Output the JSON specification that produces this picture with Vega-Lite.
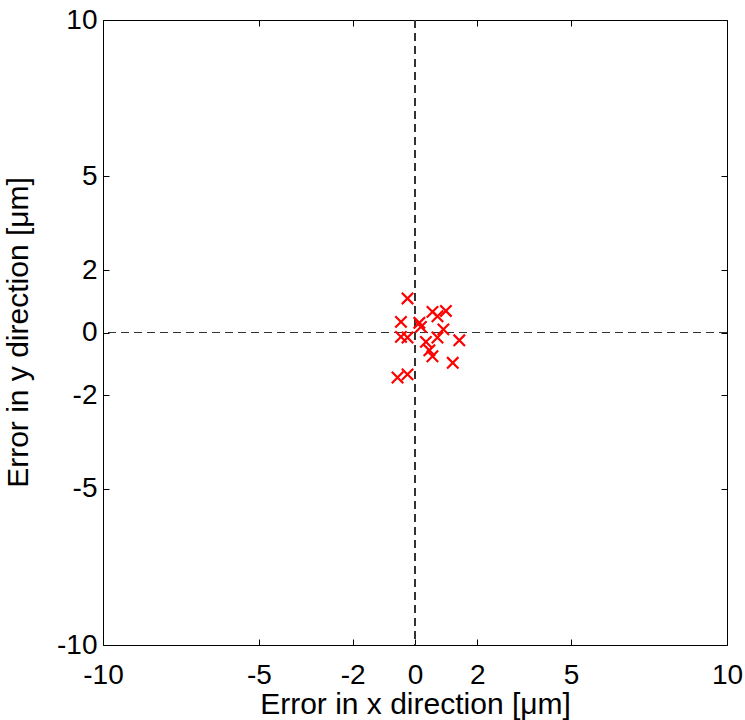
{
  "$schema": "https://vega.github.io/schema/vega-lite/v6.json",
  "autosize": "none",
  "width": 624,
  "height": 625,
  "padding": {"left": 103, "top": 20, "right": 18, "bottom": 75},
  "background": "white",
  "config": {
    "view": {"stroke": null},
    "axis": {
      "labelFont": "Liberation Sans",
      "titleFont": "Liberation Sans",
      "labelFontSize": 28,
      "titleFontSize": 30,
      "labelColor": "black",
      "titleColor": "black",
      "titleFontWeight": "normal",
      "domainColor": "black",
      "tickColor": "black",
      "domainWidth": 1,
      "tickWidth": 1,
      "grid": false,
      "labelFlush": false,
      "labelOverlap": false,
      "tickSize": -6,
      "labelExpr": "'' + datum.value"
    }
  },
  "data": {
    "values": [
      {"ex": -0.24, "ey": 1.09},
      {"ex": -0.45, "ey": 0.34},
      {"ex": 0.14, "ey": 0.31},
      {"ex": 0.19, "ey": 0.18},
      {"ex": 0.56, "ey": 0.66},
      {"ex": 0.72, "ey": 0.52},
      {"ex": 0.99, "ey": 0.69},
      {"ex": 0.91, "ey": 0.10},
      {"ex": -0.45, "ey": -0.14},
      {"ex": -0.24, "ey": -0.16},
      {"ex": 1.42, "ey": -0.25},
      {"ex": 0.72, "ey": -0.16},
      {"ex": 0.35, "ey": -0.30},
      {"ex": 0.46, "ey": -0.57},
      {"ex": 0.56, "ey": -0.76},
      {"ex": 1.21, "ey": -0.97},
      {"ex": -0.56, "ey": -1.44},
      {"ex": -0.24, "ey": -1.34}
    ]
  },
  "resolve": {"axis": {"x": "independent", "y": "independent"}},
  "layer": [
    {
      "mark": {"type": "rule", "color": "#333333", "strokeDash": [8, 5], "strokeWidth": 1},
      "encoding": {
        "x": {
          "datum": 0,
          "type": "quantitative",
          "scale": {"domain": [-10, 10], "nice": false, "zero": false},
          "axis": {"orient": "top", "labels": false, "title": null, "values": [-10, -5, -2, 0, 2, 5, 10]}
        }
      }
    },
    {
      "mark": {"type": "rule", "color": "#333333", "strokeDash": [8, 5], "strokeWidth": 1},
      "encoding": {
        "y": {
          "datum": 0,
          "type": "quantitative",
          "scale": {"domain": [-10, 10], "nice": false, "zero": false},
          "axis": {"orient": "right", "labels": false, "title": null, "values": [-10, -5, -2, 0, 2, 5, 10]}
        }
      }
    },
    {
      "mark": {
        "type": "point",
        "shape": "M-1,-1L1,1M-1,1L1,-1",
        "size": 130,
        "filled": false,
        "color": "#ff0000",
        "strokeWidth": 2.2,
        "opacity": 1
      },
      "encoding": {
        "x": {
          "field": "ex",
          "type": "quantitative",
          "scale": {"domain": [-10, 10], "nice": false, "zero": false},
          "axis": {
            "orient": "bottom",
            "values": [-10, -5, -2, 0, 2, 5, 10],
            "labelPadding": 22,
            "title": "Error in x direction [μm]",
            "titleX": 312,
            "titleY": 68,
            "titleBaseline": "alphabetic"
          }
        },
        "y": {
          "field": "ey",
          "type": "quantitative",
          "scale": {"domain": [-10, 10], "nice": false, "zero": false},
          "axis": {
            "orient": "left",
            "values": [-10, -5, -2, 0, 2, 5, 10],
            "labelPadding": 12,
            "title": "Error in y direction [μm]",
            "titleX": -76,
            "titleY": 312,
            "titleAngle": -90,
            "titleBaseline": "alphabetic"
          }
        }
      }
    }
  ]
}
